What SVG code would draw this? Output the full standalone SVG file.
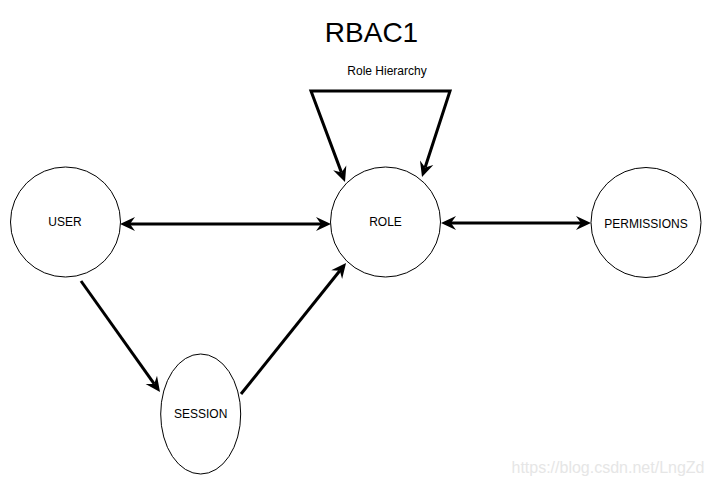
<svg xmlns="http://www.w3.org/2000/svg" width="712" height="485" viewBox="0 0 712 485">
  <style>
    .node { fill: #ffffff; stroke: #000000; stroke-width: 1; }
    .lbl { font-family: "Liberation Sans", Arial, Helvetica, sans-serif; font-size: 12px; fill: #000000; text-anchor: middle; dominant-baseline: central; }
    .edge { fill: none; stroke: #000000; stroke-width: 3; stroke-linejoin: miter; }
  </style>
  <defs>
    <marker id="ah" viewBox="-16 -8 18 16" refX="-10" refY="0" markerWidth="18" markerHeight="16" orient="auto-start-reverse" markerUnits="userSpaceOnUse">
      <path d="M0,0 L-15,-7 L-10,0 L-15,7 Z" fill="#000000"/>
    </marker>
  </defs>
  <rect width="712" height="485" fill="#ffffff"/>
  <text x="371.5" y="42" font-family="Liberation Sans, Arial, Helvetica, sans-serif" font-size="28" text-anchor="middle" fill="#000000">RBAC1</text>
  <text x="387" y="75" font-family="Liberation Sans, Arial, Helvetica, sans-serif" font-size="12" text-anchor="middle" fill="#000000">Role Hierarchy</text>

  <g id="connectors">
    <path class="edge" d="M341.5,172.6 L311,91 L450,91 L425.1,167.5" marker-start="url(#ah)" marker-end="url(#ah)"/>
    <line class="edge" x1="130" y1="224" x2="321" y2="224" marker-start="url(#ah)" marker-end="url(#ah)"/>
    <line class="edge" x1="451" y1="223" x2="581" y2="223" marker-start="url(#ah)" marker-end="url(#ah)"/>
    <line class="edge" x1="81" y1="281" x2="154.2" y2="383.9" marker-end="url(#ah)"/>
    <line class="edge" x1="241" y1="394" x2="339.8" y2="270.8" marker-end="url(#ah)"/>
  </g>

  <g id="user">
    <circle class="node" cx="65.5" cy="222" r="55"/>
    <text class="lbl" x="65" y="222">USER</text>
  </g>
  <g id="role">
    <circle class="node" cx="385.5" cy="222" r="55"/>
    <text class="lbl" x="385.5" y="222">ROLE</text>
  </g>
  <g id="permissions">
    <circle class="node" cx="646" cy="222.5" r="55"/>
    <text class="lbl" x="646" y="223.5">PERMISSIONS</text>
  </g>
  <g id="session">
    <ellipse class="node" cx="200.7" cy="414" rx="40" ry="60"/>
    <text class="lbl" x="200.7" y="414">SESSION</text>
  </g>

  <text x="608" y="473" font-family="Liberation Sans, Arial, Helvetica, sans-serif" font-size="16" text-anchor="middle" fill="#e6e6e6">https://blog.csdn.net/LngZd</text>
</svg>
